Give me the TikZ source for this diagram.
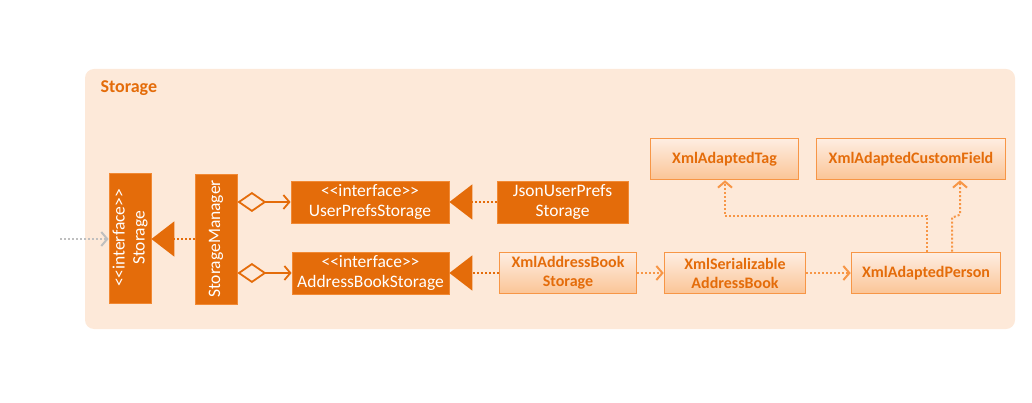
\documentclass[tikz,border=0pt]{standalone}
\usepackage{fontspec}
\setmainfont{Carlito}
\usetikzlibrary{arrows.meta,calc}
\definecolor{dorange}{RGB}{228,108,10}
\definecolor{lorange}{RGB}{247,150,70}
\definecolor{pkgbg}{RGB}{253,233,217}
\definecolor{ltop}{RGB}{254,238,226}
\definecolor{lbot}{RGB}{251,196,150}
\definecolor{greyarr}{RGB}{191,191,191}
\newcommand{\intf}{<{}<interface>{}>}
\tikzset{
  dark/.style={draw=lorange!70!dorange, line width=0.8pt, fill=dorange, text=white, inner sep=1pt, align=center,
    font=\fontsize{17.5}{20}\selectfont},
  light/.style={draw=lorange, line width=1.6pt, top color=ltop, bottom color=lbot, text=dorange, inner sep=1pt, align=center,
    font=\fontsize{16}{19}\selectfont\bfseries},
  real/.style={dorange, line width=2pt, dash pattern=on 2pt off 2pt,
    -{Triangle[width=35pt,length=23pt,fill=dorange]}},
  agg/.style={dorange, line width=1.8pt,
    {Diamond[width=20pt,length=29pt,fill=pkgbg,sep=0pt]}-{Straight Barb[length=6pt,width=14pt]}},
  dep/.style={lorange, line width=2pt, dash pattern=on 2pt off 2pt,
    -{Straight Barb[length=6pt,width=14pt]}},
}
\begin{document}
\begin{tikzpicture}[x=1pt,y=-1pt]
\useasboundingbox (0,0) rectangle (1032,403);
\fill[pkgbg, rounded corners=9pt] (85,69) rectangle (1015,329);
\node[anchor=west, text=dorange, font=\fontsize{18}{20}\selectfont\bfseries] (title) at (97,88) {Storage};

\node[dark, rotate=90, minimum width=130pt, minimum height=42pt] (storage) at (130,238) {\intf\\Storage};
\node[dark, rotate=90, minimum width=130pt, minimum height=42pt] (mgr) at (216,239) {StorageManager};
\node[dark, minimum width=158pt, minimum height=42pt] (ups) at (370,202) {\intf\\UserPrefsStorage};
\node[dark, minimum width=157pt, minimum height=42pt] (abs) at (370.5,273) {\intf\\AddressBookStorage};
\node[dark, minimum width=131pt, minimum height=42pt] (json) at (562.5,202) {JsonUserPrefs\\Storage};
\node[light, minimum width=137pt, minimum height=41pt] (xabs) at (568,273) {XmlAddressBook\\Storage};
\node[light, minimum width=141pt, minimum height=41pt] (xsab) at (735,273) {XmlSerializable\\AddressBook};
\node[light, minimum width=149pt, minimum height=41pt] (xap) at (926,273) {XmlAdaptedPerson};
\node[light, minimum width=148pt, minimum height=41pt] (tag) at (724.5,159) {XmlAdaptedTag};
\node[light, minimum width=189pt, minimum height=41pt] (cf) at (911,159) {XmlAdaptedCustomField};

\coordinate (ext) at (60,239);
\draw[greyarr, line width=2pt, dash pattern=on 2pt off 2pt, -{Straight Barb[length=6pt,width=14pt]}] (ext) -- (storage.north |- ext);

\draw[real] (mgr.north) -- (storage.south |- mgr.north);
\draw[agg] (mgr.south |- ups.west) -- (ups.west);
\draw[agg] (mgr.south |- abs.west) -- (abs.west);
\draw[real] (json.west) -- (ups.east);
\draw[real] (xabs.west) -- (abs.east);
\draw[dep] (xabs.east) -- (xsab.west);
\draw[dep] (xsab.east) -- (xap.west);
\draw[dep] ([xshift=1pt]xap.north) -- ++(0,-36) -| ([xshift=0.5pt]tag.south);
\draw[dep] ([xshift=26pt]xap.north) -- ++(0,-34) -- ++(8,-3) -- ([xshift=49pt]cf.south);
\end{tikzpicture}
\end{document}
